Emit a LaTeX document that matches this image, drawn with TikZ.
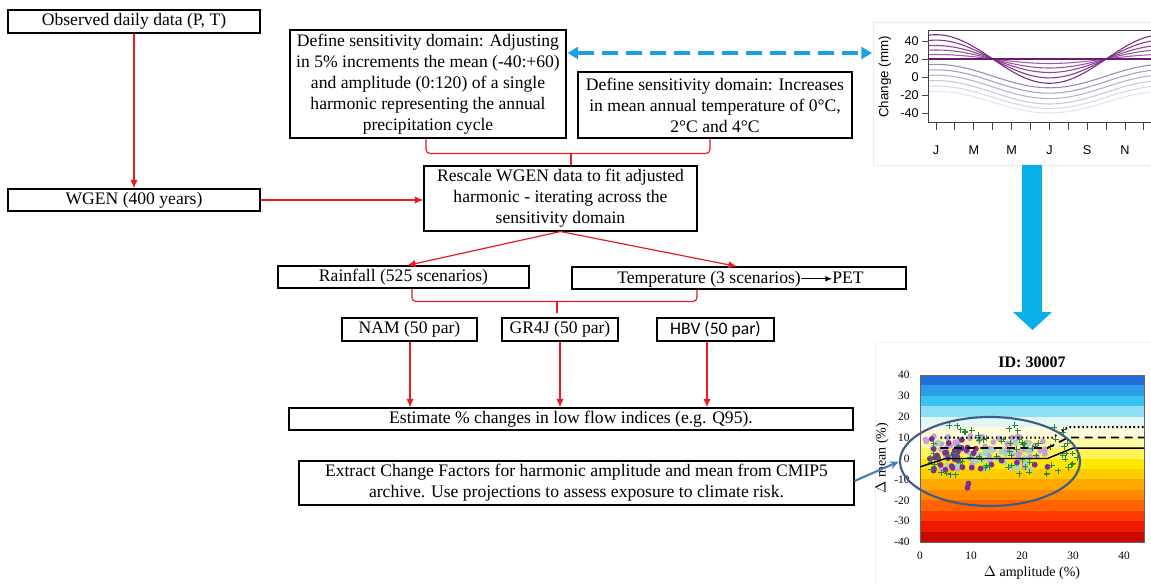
\documentclass[tikz,border=0pt]{standalone}
\usepackage{fontspec}
\setmainfont{Liberation Serif}
\newfontfamily\arialf{Liberation Sans}
\newfontfamily\calibf{Carlito}
\usetikzlibrary{arrows.meta,calc,shapes.geometric}
\definecolor{myred}{RGB}{230,30,36}
\definecolor{dashblue}{HTML}{1BA1E2}
\definecolor{bigblue}{HTML}{0AAFEA}
\definecolor{steelb}{HTML}{4A7EBB}
\definecolor{ellblue}{HTML}{3E5C84}
\definecolor{axisg}{HTML}{404040}
% chart 1 curve colours
\definecolor{cu0}{HTML}{7B2A80}
\definecolor{cu1}{HTML}{82368A}
\definecolor{cu2}{HTML}{8B4594}
\definecolor{cu3}{HTML}{94539C}
\definecolor{cu4}{HTML}{9B60A4}
\definecolor{cu5}{HTML}{6A1A70}
\definecolor{cl1}{HTML}{9C86B8}
\definecolor{cl2}{HTML}{A99CC6}
\definecolor{cl3}{HTML}{B7B1D2}
\definecolor{cl4}{HTML}{C6C8DE}
\definecolor{cl5}{HTML}{D4DAE8}
\definecolor{cl6}{HTML}{E1E7EF}
% chart 2 band colours
\definecolor{b1}{HTML}{1F6FD6}
\definecolor{b2}{HTML}{2C9BE8}
\definecolor{b3}{HTML}{38C3F2}
\definecolor{b4}{HTML}{8EDFF4}
\definecolor{b5}{HTML}{E2F6F6}
\definecolor{b6}{HTML}{FFFCDD}
\definecolor{b7}{HTML}{FFF8A4}
\definecolor{b8}{HTML}{FFF35A}
\definecolor{b9}{HTML}{FFE800}
\definecolor{b10}{HTML}{FFCC00}
\definecolor{b11}{HTML}{FFA800}
\definecolor{b12}{HTML}{FF8800}
\definecolor{b13}{HTML}{FF6400}
\definecolor{b14}{HTML}{FF3C00}
\definecolor{b15}{HTML}{F01800}
\definecolor{b16}{HTML}{C80A00}
\definecolor{ptgreen}{HTML}{1E8C3C}
\definecolor{ptlpurple}{HTML}{C8A0D8}
\definecolor{ptpurple}{HTML}{7B2C95}
\definecolor{ptlgreen}{HTML}{A5D8B8}
\begin{document}
\begin{tikzpicture}[x=0.75pt,y=-0.75pt,
  box/.style={draw=black,line width=0.8pt,fill=white,inner sep=0pt,align=center,font=\fontsize{13.2}{15.8}\selectfont},
  redarrow/.style={draw=myred,line width=0.9pt,-{Latex[length=6.5pt,width=5.5pt]}},
  redline/.style={draw=myred,line width=0.9pt},
  txt/.style={inner sep=0pt,font=\fontsize{13.2}{15.8}\selectfont},
  tick1/.style={font=\arialf\fontsize{9.5}{11}\selectfont,inner sep=0pt},
  tick2/.style={font=\fontsize{8.5}{10}\selectfont,inner sep=0pt}]
\useasboundingbox (0,0) rectangle (1151,584);
\fill[white] (0,0) rectangle (1151,584);

% ---------- flow chart boxes ----------
\node[box,minimum width=189pt,minimum height=17.25pt] (obs) at (134,21.5) {Observed daily data (P, T)};
\node[box,minimum width=189pt,minimum height=16.5pt] (wgen) at (134,200) {WGEN (400 years)};
\node[box,minimum width=207pt,minimum height=81pt] (prec) at (428,84) {Define sensitivity domain: Adjusting\\in 5\% increments the mean (-40:+60)\\and amplitude (0:120) of a single\\harmonic representing the annual\\precipitation cycle};
\node[box,minimum width=205.5pt,minimum height=49.5pt] (temp) at (715,105) {Define sensitivity domain: Increases\\in mean annual temperature of 0°C,\\2°C and 4°C};
\node[box,minimum width=204.75pt,minimum height=48.75pt] (resc) at (560.5,198.5) {Rescale WGEN data to fit adjusted\\harmonic - iterating across the\\sensitivity domain};
\node[box,minimum width=188.25pt,minimum height=16.5pt] (rain) at (403.5,277) {Rainfall (525 scenarios)};
\node[box,minimum width=250.5pt,minimum height=16.5pt] (tempr) at (739,278) {};
\node[txt,anchor=base west] (tlabel) at (617,283) {Temperature (3 scenarios)};
\node[txt,anchor=base west] (pet) at (832,283) {PET};
\node[box,minimum width=101.25pt,minimum height=17.25pt] (nam) at (409.5,329.5) {NAM (50 par)};
\node[box,minimum width=87pt,minimum height=17.25pt] (gr4j) at (560,329.5) {GR4J (50 par)};
\node[box,minimum width=87.75pt,minimum height=17.25pt,font=\calibf\fontsize{13.2}{15.8}\selectfont] (hbv) at (715.5,329.5) {HBV (50 par)};
\node[box,minimum width=423pt,minimum height=16.5pt] (est) at (571,419) {Estimate \% changes in low flow indices (e.g. Q95).};
\node[box,minimum width=416.25pt,minimum height=33pt] (ext) at (576.5,483) {Extract Change Factors for harmonic amplitude and mean from CMIP5\\archive. Use projections to assess exposure to climate risk.};

% ---------- red connectors ----------
\draw[redarrow] (obs.south) -- (wgen.north);
\draw[redarrow] (wgen.east) -- (wgen.east -| resc.west);
\draw[redline,rounded corners=3pt] ($(prec.south)+(-2,0)$) -- ($(prec.south)+(-2,15)$) -- ($(temp.south)+(-5,15)$) -- ($(temp.south)+(-5,0)$);
\coordinate (b1) at (571,153);
\draw[redline] (b1) -- (b1 |- resc.north);
\draw[redarrow] (resc.south) -- ($(rain.north)+(3.5,0)$);
\draw[redarrow] (resc.south) -- ($(tempr.north)+(-2,0)$);
\draw[redline,rounded corners=3pt] ($(rain.south)+(8.5,0)$) -- ($(rain.south)+(8.5,13)$) -- ($(tempr.south)+(-42,12)$) -- ($(tempr.south)+(-42,0)$);
\coordinate (b2) at (557,301);
\draw[redline] (b2) -- (557,313);
\coordinate (nm) at ($(nam.south)+(0.5,0)$);
\draw[redarrow] (nm) -- (nm |- est.north);
\draw[redarrow] (gr4j.south) -- (gr4j.south |- est.north);
\coordinate (hb) at ($(hbv.south)+(-8.5,0)$);
\draw[redarrow] (hb) -- (hb |- est.north);
\draw[line width=0.9pt,-{Latex[length=5pt,width=4.5pt]}] (tlabel.east) -- (tlabel.east -| pet.west);

% ---------- chart 1 (harmonic curves) ----------
\draw[black!8,fill=white] (873,22) rectangle (1151,165);
\coordinate (c1w) at (872,53);
\node[font=\arialf\fontsize{10}{12}\selectfont,rotate=90,inner sep=0pt] (c1y) at (885,77) {Change (mm)};
\begin{scope}[shift={(936,77)},x=14.175pt,y=0.675pt]
  \begin{scope}
    \clip (-0.423,52.2) rectangle (11.38,-50);
    \foreach \mv/\av/\cv in {-28/12/cl6,-22.5/12.5/cl5,-17/13/cl4,-11/13/cl3,-5/13/cl2,1/13/cl1,20/5/cu4,20/10/cu3,20/15/cu2,20/21/cu1,20/27/cu0,20/0/cu5}
      \draw[\cv,line width=0.8pt] plot[domain=-0.5:11.6,samples=60,smooth] (\x,{\mv+\av*cos(30*\x)});
  \end{scope}
  \draw[axisg,line width=0.7pt] (11.38,52.2) -- (-0.423,52.2) -- (-0.423,-50) -- (11.38,-50);
  \foreach \v in {40,20,0,-20,-40} {
    \draw[axisg,line width=0.7pt] (-0.423,\v) -- (-0.74,\v);
    \node[tick1,anchor=east] at (-0.9,\v) {\v};
  }
  \foreach \t in {0,...,11}
    \draw[axisg,line width=0.7pt] (\t,-50) -- (\t,-59);
  \foreach \t/\lab in {0/J,2/M,4/M,6/J,8/S,10/N}
    \node[tick1] at (\t,-81) {\lab};
\end{scope}

% dashed blue double arrow
\draw[dashblue,line width=2.3pt,dash pattern=on 12pt off 6pt,{Triangle[length=8pt,width=9pt]}-{Triangle[length=8pt,width=9pt]}] ($(prec.east)+(1,-31)$) -- (c1w);

% big blue arrow
\fill[bigblue] (1022,165) -- (1042,165) -- (1042,312) -- (1052,312) -- (1032.5,330) -- (1013,312) -- (1022,312) -- cycle;

% ---------- chart 2 (response surface) ----------
\draw[black!6,fill=white] (875,342) rectangle (1151,584);
\node[font=\bfseries\fontsize{12}{14}\selectfont,inner sep=0pt] (title) at (1032,362) {ID: 30007};
\node[font=\fontsize{10.5}{12}\selectfont,inner sep=0pt] (c2x) at (1032,573) {$\Delta$ amplitude (\%)};
\node[font=\fontsize{10.5}{12}\selectfont,inner sep=0pt,rotate=90] (c2y) at (882,458) {$\Delta$ mean (\%)};
\begin{scope}[shift={(920,458.5)},x=3.825pt,y=1.5675pt]
  \foreach \v/\col in {35/b1,30/b2,25/b3,20/b4,15/b5,10/b6,5/b7,0/b8,-5/b9,-10/b10,-15/b11,-20/b12,-25/b13,-30/b14,-35/b15,-40/b16}
    \fill[\col] (0,\v) rectangle (44,\v+5);
  \draw[black!60,line width=0.5pt] (0,-40) rectangle (44,40);
  \foreach \v in {40,30,20,10,0,-10,-20,-30,-40}
    \node[tick2,anchor=east] at (-2,\v) {\v};
  \foreach \v in {0,10,20,30,40}
    \node[tick2] at (\v,-46.5) {\v};
  % scatter
  \pgfmathsetseed{271}
  \foreach \i in {1,...,70} {
    \pgfmathsetmacro{\vx}{1+24*rnd}
    \pgfmathsetmacro{\vy}{3+8*rand}
    \fill[ptlpurple] (\vx,\vy) circle[radius=2.2pt];
  }
  \foreach \i in {1,...,40} {
    \pgfmathsetmacro{\vx}{2+20*rnd}
    \pgfmathsetmacro{\vy}{1+7*rand}
    \fill[ptlgreen] (\vx,\vy) circle[radius=2pt];
  }
  \foreach \i in {1,...,35} {
    \pgfmathsetmacro{\vx}{1+11*rnd}
    \pgfmathsetmacro{\vy}{2+8*rand}
    \fill[ptpurple] (\vx,\vy) circle[radius=2.2pt];
  }
  \foreach \px/\py in {9.5/-12,9.3/-14,14/-3,22.5/-3,19/-2,16/-1,25/-4}
    \fill[ptpurple] (\px,\py) circle[radius=2.2pt];
  \foreach \i in {1,...,80} {
    \pgfmathsetmacro{\vx}{2+29*rnd}
    \pgfmathsetmacro{\vy}{4+12*rand}
    \draw[ptgreen,line width=0.7pt] (\vx,\vy) +(-2.2pt,0) -- +(2.2pt,0) +(0,-2.2pt) -- +(0,2.2pt);
  }
  % threshold lines
  \draw[black,line width=1.1pt] (0,-4) -- (5,0) -- (25,0) -- (30,5) -- (44,5);
  \draw[black,line width=1.3pt,dash pattern=on 6pt off 4pt] (4,5) -- (25,5) -- (29,10) -- (44,10);
  \draw[black,line width=1.4pt,dash pattern=on 1.2pt off 2pt] (4,10) -- (26,10) -- (29,15) -- (44,15);
\end{scope}
\node[ellipse,draw=ellblue,line width=1.6pt,minimum width=135pt,minimum height=66.75pt,inner sep=0pt] (ell) at (990,461.5) {};
\draw[steelb,line width=1.6pt,-{Stealth[length=7pt,width=6pt]}] ($(ext.east)+(0,-2)$) -- (ell.west);
\end{tikzpicture}
\end{document}
